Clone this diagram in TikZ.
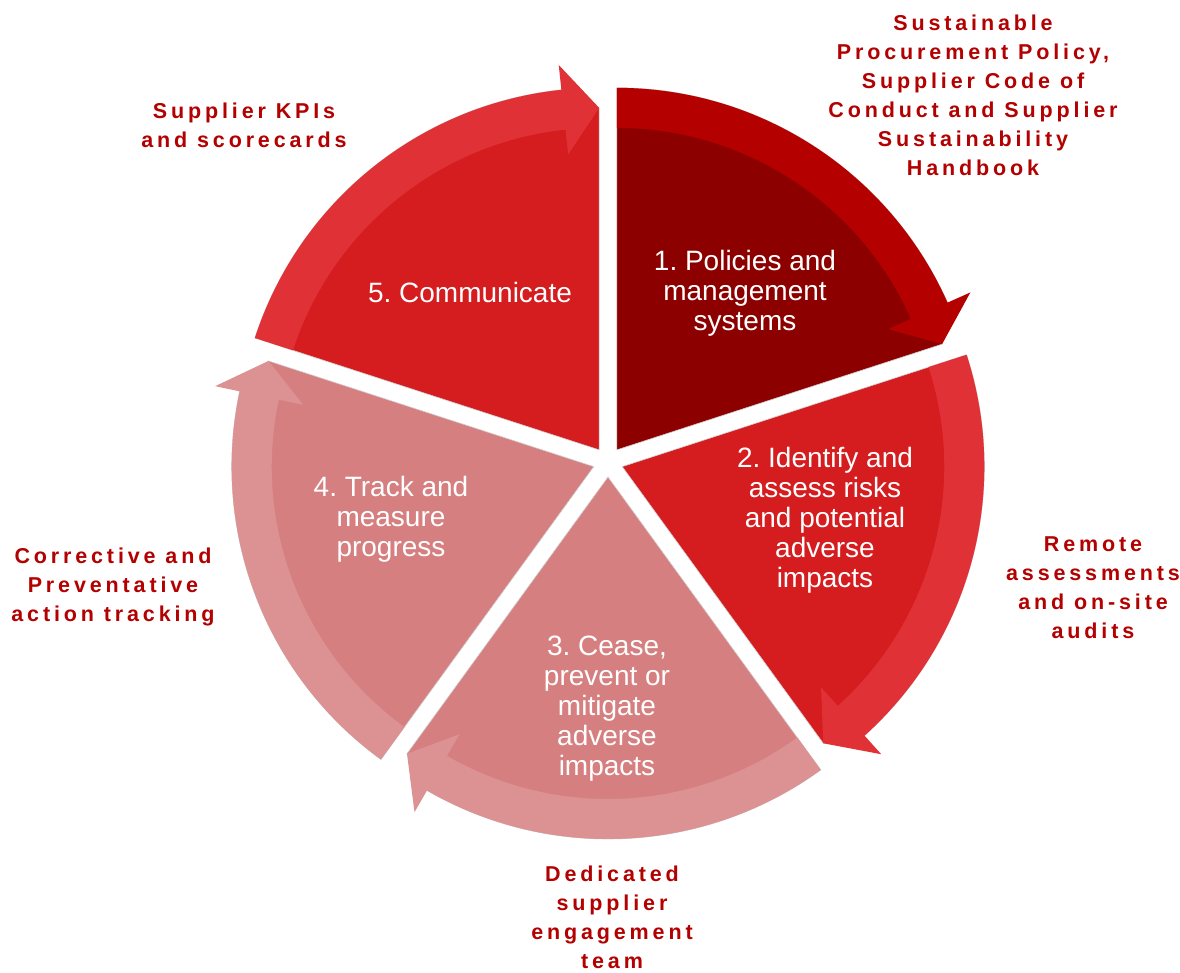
\documentclass[tikz,border=0pt]{standalone}
\usepackage{fontspec}
\setmainfont{Liberation Sans}
\newfontfamily\labfont{Liberation Sans}[LetterSpace=18]
\frenchspacing
\definecolor{segA}{HTML}{8C0000}
\definecolor{bandA}{HTML}{B50000}
\definecolor{segB}{HTML}{D51C1F}
\definecolor{bandB}{HTML}{E03236}
\definecolor{segC}{HTML}{D67F80}
\definecolor{bandC}{HTML}{DC9192}
\definecolor{labred}{HTML}{B30000}
\tikzset{
  segtext/.style={text=white, align=center, font=\frenchspacing\fontsize{28}{30}\selectfont, inner sep=0pt},
  labtext/.style={text=labred, align=center, font=\labfont\bfseries\fontsize{21.5}{29}\selectfont, inner sep=0pt},
  edge/.style={draw=black!18, line width=0.6pt}
}
\newcommand\drawseg[5]{%
  \pgfmathsetmacro\thb{#3+6}%
  \fill[#4, edge] (#1) -- ([shift={(#1)}]#2:362pt) arc[start angle=#2, end angle=\thb, radius=362pt]
     -- ([shift={(#1)}]#3:342pt) -- cycle;
  \fill[#5] ([shift={(#1)}]#2:362pt) arc[start angle=#2, end angle=\thb, radius=362pt]
     -- ([shift={(#1)}]\thb:387pt) -- ([shift={(#1)}]#3:342pt) -- ([shift={(#1)}]\thb:297pt)
     -- ([shift={(#1)}]\thb:322pt) arc[start angle=\thb, end angle=#2, radius=322pt] -- cycle;
}
\begin{document}
\begin{tikzpicture}
\path[use as bounding box] (0pt,0pt) rectangle (1180pt,973pt);
\coordinate (C) at (608pt,511pt);
\coordinate (A1) at ([shift={(C)}]54:15pt);
\coordinate (A2) at ([shift={(C)}]-18:15pt);
\coordinate (A3) at ([shift={(C)}]-90:15pt);
\coordinate (A4) at ([shift={(C)}]-162:15pt);
\coordinate (A5) at ([shift={(C)}]126:15pt);
\drawseg{A1}{90}{18}{segA}{bandA}
\drawseg{A2}{18}{-54}{segB}{bandB}
\drawseg{A3}{-54}{-126}{segC}{bandC}
\drawseg{A4}{-126}{-198}{segC}{bandC}
\drawseg{A5}{162}{90}{segB}{bandB}
\node[segtext] (t1) at (745pt,680pt) {1. Policies and\\management\\systems};
\node[segtext] (t2) at (825pt,453pt) {2. Identify and\\assess risks\\and potential\\adverse\\impacts};
\node[segtext] (t3) at (607pt,264pt) {3. Cease,\\prevent or\\mitigate\\adverse\\impacts};
\node[segtext] (t4) at (391pt,454pt) {4. Track and\\measure\\progress};
\node[segtext] (t5) at (470pt,680pt) {5. Communicate};
\node[labtext] (l1) at (973pt,878pt) {Sustainable\\Procurement Policy,\\Supplier Code of\\Conduct and Supplier\\Sustainability\\Handbook};
\node[labtext] (l2) at (1093pt,385pt) {Remote\\assessments\\and on-site\\audits};
\node[labtext] (l3) at (612pt,56pt) {Dedicated\\supplier\\engagement\\team};
\node[labtext] (l4) at (113pt,386pt) {Corrective and\\Preventative\\action tracking};
\node[labtext] (l5) at (244pt,848pt) {Supplier KPIs\\and scorecards};
\end{tikzpicture}
\end{document}
